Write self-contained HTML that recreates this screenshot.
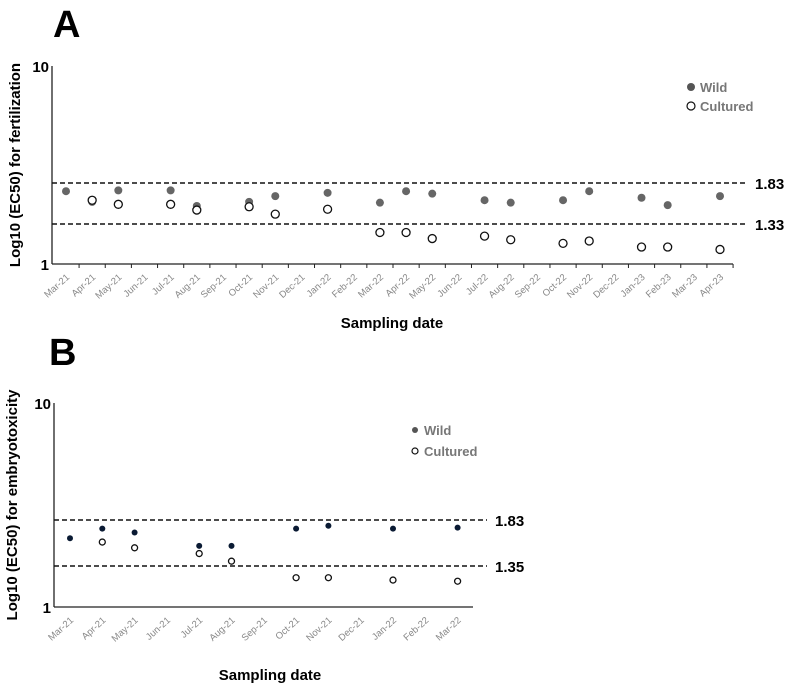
<!DOCTYPE html>
<html><head><meta charset="utf-8"><style>
body{margin:0;background:#fff;}
svg{display:block;font-family:"Liberation Sans",Arial,sans-serif;}
</style></head><body>
<svg id="s" width="791" height="691" viewBox="0 0 791 691">
<text x="53" y="37" font-size="38" font-weight="bold">A</text>
<text x="49" y="365" font-size="38" font-weight="bold">B</text>
</svg>
<script>
const monthsA=["Mar-21","Apr-21","May-21","Jun-21","Jul-21","Aug-21","Sep-21","Oct-21","Nov-21","Dec-21","Jan-22","Feb-22","Mar-22","Apr-22","May-22","Jun-22","Jul-22","Aug-22","Sep-22","Oct-22","Nov-22","Dec-22","Jan-23","Feb-23","Mar-23","Apr-23"];
const wildA=[1.73,1.60,1.74,null,1.74,1.55,null,1.60,1.67,null,1.71,null,1.59,1.73,1.70,null,1.62,1.59,null,1.62,1.73,null,1.65,1.56,null,1.67];
const culturedA=[null,1.62,1.57,null,1.57,1.50,null,1.54,1.45,null,1.51,null,1.26,1.26,1.21,null,1.23,1.20,null,1.17,1.19,null,1.14,1.14,null,1.12];
const thresholdsA=[1.83,1.33];
const monthsB=["Mar-21","Apr-21","May-21","Jun-21","Jul-21","Aug-21","Sep-21","Oct-21","Nov-21","Dec-21","Jan-22","Feb-22","Mar-22"];
const wildB=[1.64,1.74,1.70,null,1.56,1.56,null,1.74,1.77,null,1.74,null,1.75];
const culturedB=[null,1.60,1.54,null,1.48,1.40,null,1.25,1.25,null,1.23,null,1.22];
const thresholdsB=[1.83,1.35];
const yTicks=[1,10];

const NS="http://www.w3.org/2000/svg";
const svg=document.getElementById('s');
function mk(tag,attrs,parent,txt){const e=document.createElementNS(NS,tag);for(const k in attrs)e.setAttribute(k,attrs[k]);if(txt!==undefined)e.textContent=txt;(parent||svg).appendChild(e);return e;}

function panel(cfg){
  const g=mk('g',{});
  
  
  const av=cfg.anchorV, ap=cfg.anchorP;
  const y=v=>{for(let i=0;i<av.length-1;i++){if(v<=av[i+1]){return ap[i]+(v-av[i])/(av[i+1]-av[i])*(ap[i+1]-ap[i]);}}return ap[ap.length-1];};
  const x=i=>cfg.x0+i*cfg.dx;
  const ya=mk('line',{x1:cfg.ax,y1:y(10),x2:cfg.ax,y2:y(1),stroke:'#222','stroke-width':1.3},g);
  
  
  const xa=mk('line',{x1:cfg.ax,y1:y(1),x2:cfg.xend,y2:y(1),stroke:'#222','stroke-width':1.3},g);
  
  
  yTicks.forEach(t=>{const l=mk('text',{x:cfg.ax-3,y:y(t)+6,'font-size':15,'font-weight':'bold','text-anchor':'end'},g,String(t));
    
    });
  cfg.months.forEach((m,i)=>{
    if(cfg.ticks){const tk=mk('line',{x1:x(i)+cfg.dx/2,y1:y(1),x2:x(i)+cfg.dx/2,y2:y(1)+4,stroke:'#222'},g);
      
      }
    const tx=x(i)+4, ty=y(1)+14;
    const l=mk('text',{x:tx,y:ty,'font-size':9.5,fill:'#888','text-anchor':'end',transform:`rotate(-42 ${tx} ${ty})`},g,m);
    
    
  });
  cfg.thr.forEach(t=>{
    const l=mk('line',{x1:cfg.ax,y1:y(t),x2:cfg.xend+14,y2:y(t),stroke:'#111','stroke-width':1.6,'stroke-dasharray':'5,3'},g);
    
    
    const tl=mk('text',{x:cfg.xend+22,y:y(t)+6,'font-size':15,'font-weight':'bold'},g,t.toFixed(2));
    
    
  });
  cfg.wild.forEach((v,i)=>{if(v==null)return;
    const c=mk('circle',{cx:x(i),cy:y(v),r:cfg.r,fill:cfg.wildFill},g);
    
    });
  cfg.cult.forEach((v,i)=>{if(v==null)return;
    const c=mk('circle',{cx:x(i),cy:y(v),r:cfg.r,fill:'#fff',stroke:'#111','stroke-width':1.3},g);
    
    });
  const lg=mk('g',{},g);
  
  
  const w=mk('circle',{cx:cfg.lx,cy:cfg.ly,r:cfg.r,fill:'#555'},lg);
  
  
  const wt=mk('text',{x:cfg.lx+9,y:cfg.ly+5,'font-size':13,'font-weight':'bold',fill:'#777'},lg,'Wild');
  
  
  const cc=mk('circle',{cx:cfg.lx,cy:cfg.ly+cfg.lg,r:cfg.r,fill:'#fff',stroke:'#111','stroke-width':1.2},lg);
  
  
  const ct=mk('text',{x:cfg.lx+9,y:cfg.ly+cfg.lg+5,'font-size':13,'font-weight':'bold',fill:'#777'},lg,'Cultured');
  
  
  const xt=mk('text',{x:cfg.xtX,y:cfg.xtY,'font-size':15,'font-weight':'bold','text-anchor':'middle'},g,'Sampling date');
  
  
  const cy=(y(10)+y(1))/2;
  const yt=mk('text',{x:cfg.ytX,y:cy,'font-size':15,'font-weight':'bold','text-anchor':'middle',transform:`rotate(-90 ${cfg.ytX} ${cy})`},g,cfg.ytitle);
  
  
}
panel({name:'chart-a',months:monthsA,wild:wildA,cult:culturedA,thr:thresholdsA,anchorV:[1,1.33,1.83,10],anchorP:[264,224,183,66],
  ax:52,xend:733,x0:66,dx:26.16,r:4,wildFill:'#666',ticks:true,lx:691,ly:87,lg:19,xtX:392,xtY:328,ytX:20,ytitle:'Log10 (EC50) for fertilization'});
panel({name:'chart-b',months:monthsB,wild:wildB,cult:culturedB,thr:thresholdsB,anchorV:[1,1.35,1.83,10],anchorP:[607,566,520,403],
  ax:54,xend:473,x0:70,dx:32.3,r:3,wildFill:'#0a1a33',ticks:false,lx:415,ly:430,lg:21,xtX:270,xtY:680,ytX:17,ytitle:'Log10 (EC50) for embryotoxicity'});
</script>
</body></html>
